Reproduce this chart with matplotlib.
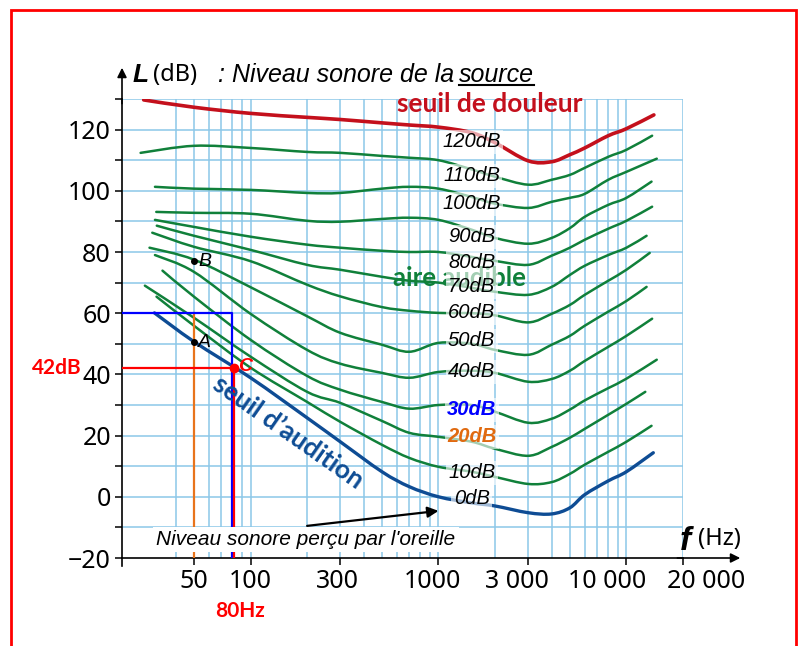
import numpy as np
import matplotlib
matplotlib.use("Agg")
import matplotlib.pyplot as plt
from matplotlib import transforms
from matplotlib.lines import Line2D
from matplotlib.patches import Rectangle, PathPatch
from matplotlib.path import Path
from matplotlib.ticker import NullLocator

plt.rcParams["font.family"] = ["Noto Sans", "DejaVu Sans"]

# fréquences communes (Hz)
freq = [50, 100, 200, 300, 500, 700, 1000, 1500, 2000, 3000, 4000, 5000, 6000, 8000, 10000]

# niveaux (dB) lus sur chaque courbe, + premier et dernier point (f, L)
douleur = [127.3, 125.3, 124.0, 123.3, 122.2, 121.5, 120.8, 119.0, 115.7, 109.8, 109.5, 111.8, 114.0, 118.0, 120.3]
douleur_ends = [(27, 129.7), (14000, 124.8)]
n110 = [114.7, 114.0, 112.7, 112.4, 111.4, 110.8, 110.0, 107.0, 104.6, 102.0, 103.6, 105.2, 107.5, 111.1, 113.4]
n110_ends = [(26, 112.4), (13700, 118.0)]
n100 = [100.7, 100.3, 99.3, 99.3, 100.7, 101.3, 100.7, 98.0, 95.8, 94.4, 96.4, 97.7, 99.0, 103.6, 106.2]
n100_ends = [(31, 101.3), (14500, 110.5)]
n90 = [92.8, 92.5, 90.2, 89.9, 90.8, 91.2, 90.5, 87.3, 84.6, 82.7, 84.6, 87.8, 91.5, 95.4, 97.7]
n90_ends = [(31.5, 93.1), (13600, 103.0)]
n80 = [88.2, 85.0, 82.4, 81.4, 80.4, 80.0, 80.0, 78.4, 77.1, 75.8, 78.8, 81.4, 84.0, 87.6, 90.2]
n80_ends = [(31, 90.5), (13700, 94.8)]
n70 = [85.3, 80.7, 75.8, 74.2, 71.9, 70.6, 70.0, 68.3, 67.0, 66.0, 68.6, 72.5, 75.5, 79.0, 81.4]
n70_ends = [(31.7, 88.6), (12800, 85.3)]
n60 = [81.7, 77.0, 69.3, 65.5, 62.0, 60.8, 60.1, 60.0, 59.3, 57.0, 59.8, 62.7, 66.0, 70.6, 74.2]
n60_ends = [(30, 86.3), (13300, 79.7)]
n50 = [77.5, 68.5, 59.0, 53.6, 49.7, 47.4, 50.3, 50.0, 48.0, 46.4, 49.7, 52.6, 55.9, 60.5, 64.0]
n50_ends = [(29, 81.4), (12800, 68.6)]
n40 = [73.5, 59.8, 48.0, 43.5, 40.5, 38.9, 40.8, 41.2, 40.5, 37.6, 38.5, 41.2, 44.4, 49.0, 52.6]
n40_ends = [(31, 79.0), (13700, 58.2)]
n30 = [65.4, 51.3, 39.5, 35.0, 31.0, 28.8, 30.0, 30.0, 27.8, 24.2, 25.5, 28.5, 31.5, 35.5, 38.6]
n30_ends = [(34, 73.9), (14500, 44.8)]
n20 = [58.5, 45.8, 34.3, 30.7, 24.8, 20.9, 19.6, 18.0, 15.7, 13.4, 16.3, 19.3, 22.2, 26.8, 30.4]
n20_ends = [(27.4, 69.0), (12600, 34.3)]
n10 = [55.9, 42.2, 31.0, 24.5, 17.0, 12.7, 9.8, 8.2, 6.5, 4.2, 4.8, 7.5, 10.5, 14.7, 18.0]
n10_ends = [(31.6, 65.4), (13600, 23.2)]
n0 = [50.7, 38.9, 25.8, 18.0, 8.2, 3.3, 0.0, -2.0, -3.0, -5.2, -5.6, -3.6, 0.7, 5.2, 8.2]
n0_ends = [(30.8, 60.1), (13900, 14.4)]

green_curves = [(n110, n110_ends), (n100, n100_ends), (n90, n90_ends), (n80, n80_ends),
                (n70, n70_ends), (n60, n60_ends), (n50, n50_ends), (n40, n40_ends),
                (n30, n30_ends), (n20, n20_ends), (n10, n10_ends)]

label_text = ["120dB", "110dB", "100dB", "90dB", "80dB", "70dB", "60dB",
              "50dB", "40dB", "30dB", "20dB", "10dB", "0dB"]
label_y = [116, 104.9, 95.8, 85, 76.5, 68.6, 60.1, 51, 40.8, 28.4, 19.6, 7.8, -0.7]

x_ticks = [50, 100, 300, 1000, 3000, 10000, 20000]
x_ticklabels = ["50", "100", "300", "1000", "3 000", "10 000", "20 000"]

pts_AB = [(50, 50.5), (50, 77)]
f_C, L_C = 80, 42

GREEN = "#10803a"
RED = "#c4101c"
BLUE = "#0e4c94"
GRID = "#8cc8e8"
BOLD = ["Lato", "Liberation Sans", "DejaVu Sans"]

W, H = 803, 646
fig = plt.figure(figsize=(W / 100, H / 100), dpi=100)
ax = fig.add_axes([122 / W, 1 - 558 / H, 561 / W, 459 / H])
ax.set_xscale("log")
ax.set_xlim(20.7, 20000)
ax.set_ylim(-20, 130)
xmin = ax.get_xlim()[0]

# quadrillage
grid_f = [k * 10 for k in range(4, 10)] + [k * 100 for k in range(1, 10)] + \
         [k * 1000 for k in range(1, 10)] + [10000, 20000]
ax.vlines(grid_f, -20, 130, color=GRID, lw=1.1, zorder=0)
ax.hlines(range(-10, 131, 10), xmin, 20000, color=GRID, lw=1.1, zorder=0)

for s in ["top", "right"]:
    ax.spines[s].set_visible(False)
for s in ["left", "bottom"]:
    ax.spines[s].set_linewidth(1.2)

ax.set_xticks(x_ticks, labels=x_ticklabels)
ax.xaxis.set_minor_locator(NullLocator())
ax.set_yticks(range(-20, 121, 20))
ax.set_yticks(range(-10, 131, 20), minor=True)
ax.tick_params(axis="both", which="both", direction="out", length=5, width=1.1,
               labelsize=18, pad=3)
# petits décalages des étiquettes, comme sur l'original
for lab, dx in zip(ax.get_xticklabels(), [0, 0, -3, -6, -11, -19, 23]):
    lab.set_transform(lab.get_transform() + transforms.ScaledTranslation(dx / 100, 0, fig.dpi_scale_trans))

# flèches des axes
arr = dict(arrowstyle="-|>", color="k", lw=1.2, mutation_scale=14, shrinkA=0, shrinkB=0)
ax.annotate("", xy=(0, 1.068), xytext=(0, 0.99), xycoords="axes fraction", arrowprops=arr)
ax.annotate("", xy=(1.102, 0), xytext=(0.99, 0), xycoords="axes fraction", arrowprops=arr)
ax.plot([0, 0], [0, -0.018], transform=ax.transAxes, color="k", lw=1.2, clip_on=False)


def smooth(mid, ends):
    # tracé lissé (Bézier) passant par les points lus, en coordonnées log(f)
    x = np.log10([ends[0][0]] + freq + [ends[1][0]])
    y = np.array([ends[0][1]] + mid + [ends[1][1]], dtype=float)
    p = np.column_stack([x, y])
    verts, codes = [p[0]], [Path.MOVETO]
    n = len(p)
    for i in range(n - 1):
        p0 = p[i - 1] if i > 0 else p[i]
        p3 = p[i + 2] if i + 2 < n else p[i + 1]
        c1 = p[i] + (p[i + 1] - p0) / 6
        c2 = p[i + 1] - (p3 - p[i]) / 6
        verts += [c1, c2, p[i + 1]]
        codes += [Path.CURVE4] * 3
    v = np.array(verts)
    v[:, 0] = 10 ** v[:, 0]
    return Path(v, codes)


def draw(mid, ends, color, lw):
    ax.add_patch(PathPatch(smooth(mid, ends), fill=False, ec=color, lw=lw,
                           capstyle="round", zorder=3))


for mid, ends in green_curves:
    draw(mid, ends, GREEN, 1.8)
draw(douleur, douleur_ends, RED, 2.6)
draw(n0, n0_ends, BLUE, 2.4)

# constructions A, B, C
ax.plot([50, 50], [-20, 60], color="#e8741c", lw=1.6, zorder=4)
ax.plot([xmin, f_C, f_C], [60, 60, -20], color="#0000ff", lw=1.6, zorder=4)
red_off = transforms.offset_copy(ax.transData, fig=fig, x=2, y=0, units="dots")
ax.plot([xmin, f_C], [L_C, L_C], color="#ff0000", lw=1.6, zorder=4)
ax.plot([f_C, f_C], [L_C, -20], color="#ff0000", lw=1.6, zorder=4, transform=red_off)
ax.plot([f_C], [L_C], "o", color="#ff0000", ms=6, zorder=5, transform=red_off)
for (fx, lx), name in zip(pts_AB, ["A", "B"]):
    ax.plot([fx], [lx], "o", color="k", ms=4, zorder=5)
    ax.annotate(name, (fx, lx), xytext=(3, 0), textcoords="offset points", va="center",
                fontsize=14, style="italic", family="Liberation Sans", zorder=5)
ax.annotate("C", (f_C, L_C), xytext=(4, 1), textcoords="offset points", va="center",
            fontsize=14, style="italic", weight="bold", color="#ff0000",
            family="Liberation Sans", zorder=5)

# étiquettes des courbes
label_col = ["k"] * 9 + ["#0000ff", "#e06a10", "k", "k"]
for t, y, c in zip(label_text, label_y, label_col):
    bold = "bold" if c != "k" else "normal"
    ax.text(1500, y, t, fontsize=14.5, style="italic", weight=bold, color=c,
            family="Liberation Sans", ha="center", va="center", zorder=6,
            bbox=dict(boxstyle="square,pad=0.12", fc="white", ec="none", alpha=0.62))

ax.text(1300, 71.5, "aire audible", color=GREEN, fontsize=18.5, weight="bold",
        family=BOLD, ha="center", va="center", zorder=5)
ax.text(1880, 128.4, "seuil de douleur", color=RED, fontsize=19, weight="bold",
        family=BOLD, ha="center", va="center", zorder=5)
ax.text(158, 21.0, "seuil d\u2019audition", color=BLUE, fontsize=19, weight="bold",
        family=BOLD, rotation=-35, ha="center", va="center", zorder=5)

ax.text(197, -14, "Niveau sonore perçu par l'oreille", fontsize=15, style="italic",
        family="Liberation Sans", ha="center", va="center", zorder=5,
        bbox=dict(boxstyle="square,pad=0.15", fc="white", ec="none"))
ax.annotate("", xy=(1000, -4.6), xytext=(200, -9.5),
            arrowprops=dict(arrowstyle="-|>", color="k", lw=1.6, mutation_scale=16,
                            shrinkA=0, shrinkB=0), zorder=6)

bx = transforms.blended_transform_factory(ax.transAxes, ax.transData)
ax.text(-0.072, L_C, "42dB", transform=bx, color="#ff0000", fontsize=15, weight="bold",
        family=BOLD, ha="right", va="center")
by = transforms.blended_transform_factory(ax.transData, ax.transAxes)
ax.text(88, -0.115, "80Hz", transform=by, color="#ff0000", fontsize=15, weight="bold",
        family=BOLD, ha="center", va="center")


def put(x_px, y_px, s, **kw):
    return fig.text(x_px / W, 1 - y_px / H, s, **kw)


# titre de l'axe vertical
put(133, 75, "L", fontsize=19, weight="bold", style="italic", family="Liberation Sans",
    va="center")
put(153, 75, "(dB)", fontsize=17, va="center")
renderer = fig.canvas.get_renderer()
t1 = put(218, 75, ": Niveau sonore de la", fontsize=18, style="italic",
         family="Liberation Sans", va="center")
bb = t1.get_window_extent(renderer)
t2 = fig.text((bb.x1 + 5) / W, 1 - 75 / H, "source", fontsize=18, style="italic",
              family="Liberation Sans", va="center")
bb2 = t2.get_window_extent(renderer)
fig.add_artist(Line2D([bb2.x0 / W, bb2.x1 / W], [(bb2.y0 + 2) / H] * 2, color="k", lw=1.5))

# titre de l'axe horizontal
put(680, 542, "f", fontsize=24, weight="bold", style="italic", family="Liberation Sans",
    va="center")
put(698, 539, "(Hz)", fontsize=17, va="center")

# cadre rouge
fig.add_artist(Rectangle((11 / W, -0.05), 785 / W, 1.05 - 10 / H, transform=fig.transFigure,
                         fill=False, ec="#ff0000", lw=2))

fig.savefig("out.png", dpi=100)
